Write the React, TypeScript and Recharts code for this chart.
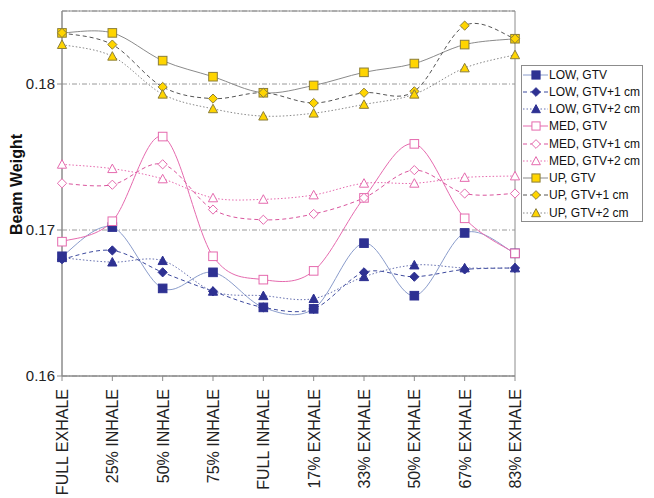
import React from 'react';
import { LineChart, Line, XAxis, YAxis, CartesianGrid, Legend, ReferenceArea } from 'recharts';

const categories = ['FULL EXHALE', '25% INHALE', '50% INHALE', '75% INHALE', 'FULL INHALE', '17% EXHALE', '33% EXHALE', '50% EXHALE', '67% EXHALE', '83% EXHALE'];

const lowGtv = [0.1682, 0.1702, 0.1660, 0.1671, 0.1647, 0.1646, 0.1691, 0.1655, 0.1698, 0.1684];
const lowGtv1 = [0.1680, 0.1686, 0.1671, 0.1658, 0.1647, 0.1646, 0.1671, 0.1668, 0.1673, 0.1674];
const lowGtv2 = [0.1681, 0.1678, 0.1679, 0.1658, 0.1655, 0.1653, 0.1668, 0.1676, 0.1674, 0.1674];
const medGtv = [0.1692, 0.1706, 0.1764, 0.1682, 0.1666, 0.1672, 0.1722, 0.1759, 0.1708, 0.1684];
const medGtv1 = [0.1732, 0.1731, 0.1745, 0.1714, 0.1707, 0.1711, 0.1722, 0.1741, 0.1725, 0.1725];
const medGtv2 = [0.1745, 0.1742, 0.1735, 0.1722, 0.1721, 0.1724, 0.1732, 0.1732, 0.1736, 0.1737];
const upGtv = [0.1835, 0.1835, 0.1816, 0.1805, 0.1794, 0.1799, 0.1808, 0.1814, 0.1827, 0.1831];
const upGtv1 = [0.1835, 0.1827, 0.1798, 0.1790, 0.1794, 0.1787, 0.1794, 0.1795, 0.1840, 0.1831];
const upGtv2 = [0.1827, 0.1819, 0.1793, 0.1783, 0.1778, 0.1780, 0.1786, 0.1793, 0.1811, 0.1820];

const yTicks = [0.16, 0.17, 0.18];
const yDomain = [0.16, 0.185];

const FONT = '"Liberation Sans", Arial, sans-serif';

type Shape = 'square' | 'diamond' | 'triangle';
interface SeriesCfg {
  key: string;
  name: string;
  values: number[];
  shape: Shape;
  line: string;
  dash?: string;
  fill: string;
  stroke: string;
}

const NAVY = '#2E3192';
const PINK = '#E56AAE';
const GOLD = '#FFD500';
const OLIVE = '#8C7E3A';

const series: SeriesCfg[] = [
  { key: 'lowGtv', name: 'LOW, GTV', values: lowGtv, shape: 'square', line: '#8A9CCB', fill: NAVY, stroke: NAVY },
  { key: 'lowGtv1', name: 'LOW, GTV+1 cm', values: lowGtv1, shape: 'diamond', line: '#3D4A9E', dash: '4 3', fill: NAVY, stroke: NAVY },
  { key: 'lowGtv2', name: 'LOW, GTV+2 cm', values: lowGtv2, shape: 'triangle', line: '#6670B0', dash: '1.5 2', fill: NAVY, stroke: NAVY },
  { key: 'medGtv', name: 'MED, GTV', values: medGtv, shape: 'square', line: PINK, fill: '#fff', stroke: PINK },
  { key: 'medGtv1', name: 'MED, GTV+1 cm', values: medGtv1, shape: 'diamond', line: '#D9559D', dash: '4 3', fill: '#fff', stroke: PINK },
  { key: 'medGtv2', name: 'MED, GTV+2 cm', values: medGtv2, shape: 'triangle', line: PINK, dash: '1.5 2', fill: '#fff', stroke: PINK },
  { key: 'upGtv', name: 'UP, GTV', values: upGtv, shape: 'square', line: '#8A8A8A', fill: GOLD, stroke: OLIVE },
  { key: 'upGtv1', name: 'UP, GTV+1 cm', values: upGtv1, shape: 'diamond', line: '#555', dash: '4 3', fill: GOLD, stroke: OLIVE },
  { key: 'upGtv2', name: 'UP, GTV+2 cm', values: upGtv2, shape: 'triangle', line: '#888', dash: '1.5 2', fill: GOLD, stroke: OLIVE },
];

const data = categories.map((c, i) => {
  const row: Record<string, any> = { cat: c };
  series.forEach((s) => { row[s.key] = s.values[i]; });
  return row;
});

// Excel-like smoothed line (Catmull-Rom style Bezier)
const excelCurve = (context: any) => {
  let pts: number[][] = [];
  return {
    areaStart() {},
    areaEnd() {},
    lineStart() { pts = []; },
    point(x: number, y: number) { pts.push([+x, +y]); },
    lineEnd() {
      if (!pts.length) return;
      context.moveTo(pts[0][0], pts[0][1]);
      for (let i = 0; i < pts.length - 1; i++) {
        const p0 = pts[i - 1] || pts[i];
        const p1 = pts[i];
        const p2 = pts[i + 1];
        const p3 = pts[i + 2] || p2;
        const c1x = p1[0] + (p2[0] - p0[0]) / 6;
        const c1y = p1[1] + (p2[1] - p0[1]) / 6;
        const c2x = p2[0] - (p3[0] - p1[0]) / 6;
        const c2y = p2[1] - (p3[1] - p1[1]) / 6;
        context.bezierCurveTo(c1x, c1y, c2x, c2y, p2[0], p2[1]);
      }
    },
  };
};

function Marker({ cx, cy, shape, fill, stroke, size = 1 }: { cx: number; cy: number; shape: Shape; fill: string; stroke: string; size?: number }) {
  if (shape === 'square') {
    const h = 4.3 * size;
    return <rect x={cx - h} y={cy - h} width={2 * h} height={2 * h} fill={fill} stroke={stroke} strokeWidth={1} />;
  }
  if (shape === 'diamond') {
    const h = 4.6 * size;
    return <polygon points={`${cx},${cy - h} ${cx + h},${cy} ${cx},${cy + h} ${cx - h},${cy}`} fill={fill} stroke={stroke} strokeWidth={1} />;
  }
  const h = 4.6 * size;
  return <polygon points={`${cx},${cy - h} ${cx + h},${cy + h * 0.85} ${cx - h},${cy + h * 0.85}`} fill={fill} stroke={stroke} strokeWidth={1} />;
}

const XTick = (props: any) => {
  const { x, y, payload } = props;
  return (
    <text
      transform={`translate(${x + 6}, ${y + 6}) rotate(-90)`}
      textAnchor="end"
      fontSize={16}
      fontFamily={FONT}
      fill="#222"
    >
      {payload.value}
    </text>
  );
};

const LegendContent = () => (
  <div
    style={{
      border: '1px solid #8c8c8c',
      background: '#fff',
      width: 120,
      fontFamily: FONT,
      fontSize: 12,
      color: '#111',
      boxSizing: 'content-box',
    }}
  >
    {series.map((s) => (
      <div key={s.key} style={{ display: 'flex', alignItems: 'center', height: 17.25, whiteSpace: 'nowrap' }}>
        <svg width={27} height={12} style={{ display: 'block', flex: '0 0 auto' }}>
          <line x1={1} y1={6} x2={26} y2={6} stroke={s.line} strokeWidth={1} strokeDasharray={s.dash} />
          <Marker cx={14} cy={6} shape={s.shape} fill={s.fill} stroke={s.stroke} size={0.95} />
        </svg>
        <span style={{ marginLeft: 0 }}>{s.name}</span>
      </div>
    ))}
  </div>
);

const YLabel = (props: any) => {
  const vb = props.viewBox || {};
  const cy = (vb.y ?? 0) + (vb.height ?? 0) / 2 - 9;
  return (
    <text
      transform={`translate(14, ${cy}) rotate(-90)`}
      textAnchor="middle"
      fontSize={16}
      fontWeight="bold"
      fontFamily={FONT}
      fill="#111"
    >
      Beam Weight
    </text>
  );
};

export default function App() {
  return (
    <LineChart
      width={640}
      height={490}
      data={data}
      margin={{ top: 3, right: 133, bottom: 0, left: 0 }}
      style={{ fontFamily: FONT }}
    >
      <CartesianGrid vertical={false} stroke="#9a9a9a" strokeDasharray="5 2 1 2" />
      <ReferenceArea
        x1={categories[0]}
        x2={categories[categories.length - 1]}
        y1={yDomain[0]}
        y2={yDomain[1]}
        fill="none"
        stroke="#8c8c8c"
        strokeWidth={1}
        fillOpacity={0}
        ifOverflow="visible"
      />
      <XAxis
        dataKey="cat"
        interval={0}
        height={122}
        tick={<XTick />}
        tickSize={5}
        stroke="#8c8c8c"
      />
      <YAxis
        domain={yDomain}
        ticks={yTicks}
        width={54}
        tickSize={5}
        tickMargin={2}
        stroke="#8c8c8c"
        tick={{ fontSize: 15, fill: '#222', fontFamily: FONT }}
        tickFormatter={(v: number) => v.toFixed(2)}
        allowDataOverflow
        label={<YLabel />}
      />
      <Legend
        layout="vertical"
        align="center"
        verticalAlign="middle"
        content={<LegendContent />}
        wrapperStyle={{ left: 513, top: 57, width: 122, height: 157 }}
      />
      {series.map((s) => (
        <Line
          key={s.key}
          dataKey={s.key}
          name={s.name}
          type={excelCurve as any}
          stroke={s.line}
          strokeWidth={1}
          strokeDasharray={s.dash}
          isAnimationActive={false}
          activeDot={false}
          dot={(p: any) => (
            <Marker key={`${s.key}-${p.index}`} cx={p.cx} cy={p.cy} shape={s.shape} fill={s.fill} stroke={s.stroke} />
          )}
        />
      ))}
    </LineChart>
  );
}
